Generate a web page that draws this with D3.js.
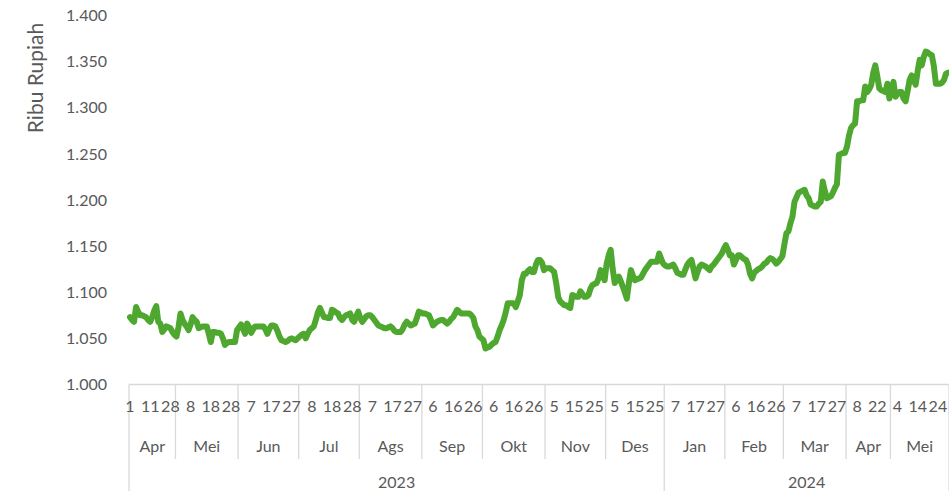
<!DOCTYPE html>
<html><head><meta charset="utf-8">
<script src="https://cdn.jsdelivr.net/npm/d3@7/dist/d3.min.js"></script>
<style>
html,body{margin:0;padding:0;background:#fff;}
svg{display:block;font-family:Lato,"Open Sans",sans-serif;}
</style></head>
<body><svg id="chart" width="949" height="491"></svg>
<script>
// ---- data (harga, ribu rupiah) ----
const monthNames = ["Apr","Mei","Jun","Jul","Ags","Sep","Okt","Nov","Des","Jan","Feb","Mar","Apr","Mei"];
const monthYears = [2023,2023,2023,2023,2023,2023,2023,2023,2023,2024,2024,2024,2024,2024];
const years = [2023, 2024];
const apr23 = [1073,1070,1068,1084,1079,1075,1075,1074,1073,1070,1068,1073,1080,1085,1068,1066,1057,1060,1063,1062,1061,1057,1054];
const mei23 = [1052,1062,1077,1070,1066,1063,1059,1065,1073,1070,1068,1061,1062,1063,1063,1063,1055,1046,1057,1057,1056,1056,1055,1050,1043,1045,1046,1046,1046,1046,1059];
const jun23 = [1062,1065,1060,1055,1066,1062,1056,1060,1063,1063,1063,1063,1063,1060,1055,1060,1064,1064,1063,1058,1052,1048,1047,1046,1047,1049,1050,1049,1048,1050];
const jul23 = [1052,1054,1055,1050,1055,1059,1061,1063,1070,1078,1083,1078,1073,1073,1072,1072,1081,1080,1078,1077,1072,1070,1073,1075,1076,1077,1070,1068,1074,1079];
const ags23 = [1072,1068,1071,1074,1075,1075,1073,1070,1067,1064,1063,1062,1061,1061,1062,1063,1061,1058,1057,1057,1057,1060,1065,1068,1066,1064,1065,1066,1072,1079,1078];
const sep23 = [1077,1077,1076,1075,1070,1064,1066,1068,1069,1070,1070,1068,1066,1068,1071,1073,1077,1081,1079,1077,1077,1077,1077,1077,1075,1072,1063,1059,1052,1050];
const okt23 = [1048,1039,1040,1041,1043,1045,1046,1052,1059,1064,1070,1078,1088,1088,1088,1088,1084,1090,1097,1113,1120,1120,1123,1125,1122,1122,1130,1135,1135,1132,1124];
const nov23 = [1126,1126,1126,1124,1122,1110,1095,1090,1088,1086,1086,1084,1083,1097,1096,1095,1095,1101,1098,1095,1095,1097,1104,1108,1109,1110,1115,1124,1118,1113];
const des23 = [1131,1140,1146,1125,1110,1114,1117,1112,1106,1100,1093,1110,1124,1118,1113,1114,1115,1116,1120,1124,1127,1130,1133,1133,1133,1133,1142,1136,1131];
const jan24 = [1129,1128,1128,1129,1130,1126,1121,1120,1119,1119,1125,1130,1133,1135,1125,1115,1122,1128,1130,1129,1128,1126,1124,1128,1130,1133,1136,1139,1142,1147];
const feb24 = [1151,1146,1140,1140,1130,1135,1140,1140,1138,1136,1135,1130,1120,1115,1121,1123,1125,1126,1128,1131,1132,1135,1137,1136,1134,1131,1133,1136,1139];
const mar24 = [1152,1164,1166,1175,1182,1198,1203,1208,1209,1210,1211,1205,1202,1195,1194,1193,1193,1196,1198,1220,1210,1202,1203,1204,1208,1213,1217,1249,1250,1251,1251];
const apr24 = [1258,1270,1278,1281,1283,1307,1307,1308,1308,1323,1317,1320,1325,1338,1346,1334,1321,1319,1318,1317,1326,1310];
const mei24 = [1320,1328,1312,1315,1317,1317,1310,1307,1318,1330,1335,1330,1325,1340,1352,1346,1355,1361,1360,1358,1357,1345,1326,1326,1326,1327,1330,1337,1338];
const dayTickLabels = ["1","11","28","8","18","28","7","17","27","8","18","28","7","17","27","6","16","26","6","16","26","5","15","25","5","15","25","7","17","27","6","16","26","7","17","27","8","22","4","14","24"];
const labelInterval = 10;
const yTicks = [1000,1050,1100,1150,1200,1250,1300,1350,1400];
const yTitle = "Ribu Rupiah";

// ---- build ----
const monthSeries = [apr23,mei23,jun23,jul23,ags23,sep23,okt23,nov23,des23,jan24,feb24,mar24,apr24,mei24];
const values = monthSeries.flat();
const N = values.length;
const monthStart = [];
let acc = 0;
monthSeries.forEach(m => { monthStart.push(acc); acc += m.length; });

const svg = d3.select("#chart");
const plotLeft = 129, plotRight = 949, plotTop = 15.5, plotBottom = 384.5;
const x = d3.scaleLinear().domain([0, N]).range([plotLeft, plotRight]);
const y = d3.scaleLinear().domain([1000, 1400]).range([plotBottom, plotTop]);
const idLocale = d3.formatLocale({decimal: ",", thousands: ".", grouping: [3], currency: ["Rp", ""]});
const fmt = idLocale.format(",d");
const textCol = "#595959", gridCol = "#d9d9d9";

// y axis (labels only)
const yAxis = svg.append("g").attr("transform", `translate(${plotLeft},0)`)
  .call(d3.axisLeft(y).tickValues(yTicks).tickSize(0).tickPadding(22).tickFormat(fmt));
yAxis.select(".domain").remove();
yAxis.selectAll("text").attr("fill", textCol).style("font-size", "16px").style("font-family", "Lato");

// y title
svg.append("text").attr("transform", `translate(42.5,78) rotate(-90)`)
  .attr("text-anchor", "middle").attr("fill", textCol)
  .style("font-size", "21px").text(yTitle);

// x axis baseline
svg.append("line").attr("x1", plotLeft).attr("x2", plotRight).attr("y1", y(1000)).attr("y2", y(1000))
  .attr("stroke", gridCol).attr("stroke-width", 1.3);

// month dividers
const monthBottom = 459, yearBottom = 491;
const yearStartIdx = years.map(yr => monthStart[monthYears.indexOf(yr)]);
svg.append("g").selectAll("line").data(monthStart.concat([N])).join("line")
  .attr("x1", d => x(d)).attr("x2", d => x(d))
  .attr("y1", y(1000))
  .attr("y2", d => (yearStartIdx.includes(d) || d === N) ? yearBottom : monthBottom)
  .attr("stroke", gridCol).attr("stroke-width", 1.3);

// day tick labels
svg.append("g").selectAll("text").data(dayTickLabels).join("text")
  .attr("x", (d, i) => x(i * labelInterval + 0.5))
  .attr("y", 406).attr("dy", "0.35em")
  .attr("text-anchor", "middle").attr("fill", textCol).style("font-size", "16px")
  .text(d => d);

// month labels
svg.append("g").selectAll("text").data(monthNames).join("text")
  .attr("x", (d, i) => x(monthStart[i] + monthSeries[i].length / 2))
  .attr("y", 446).attr("dy", "0.35em")
  .attr("text-anchor", "middle").attr("fill", textCol).style("font-size", "16px")
  .text(d => d);

// year labels
svg.append("g").selectAll("text").data(years).join("text")
  .attr("x", (d, i) => {
    const s = yearStartIdx[i];
    const e = i + 1 < years.length ? yearStartIdx[i + 1] : N;
    return x((s + e) / 2);
  })
  .attr("y", 482).attr("dy", "0.35em")
  .attr("text-anchor", "middle").attr("fill", textCol).style("font-size", "16px")
  .text(d => d);

// line
const line = d3.line().x((d, i) => x(i + 0.5)).y(d => y(d));
svg.append("path").datum(values).attr("d", line)
  .attr("fill", "none").attr("stroke", "#4EA72E").attr("stroke-width", 6)
  .attr("stroke-linejoin", "round").attr("stroke-linecap", "round");
</script></body></html>
